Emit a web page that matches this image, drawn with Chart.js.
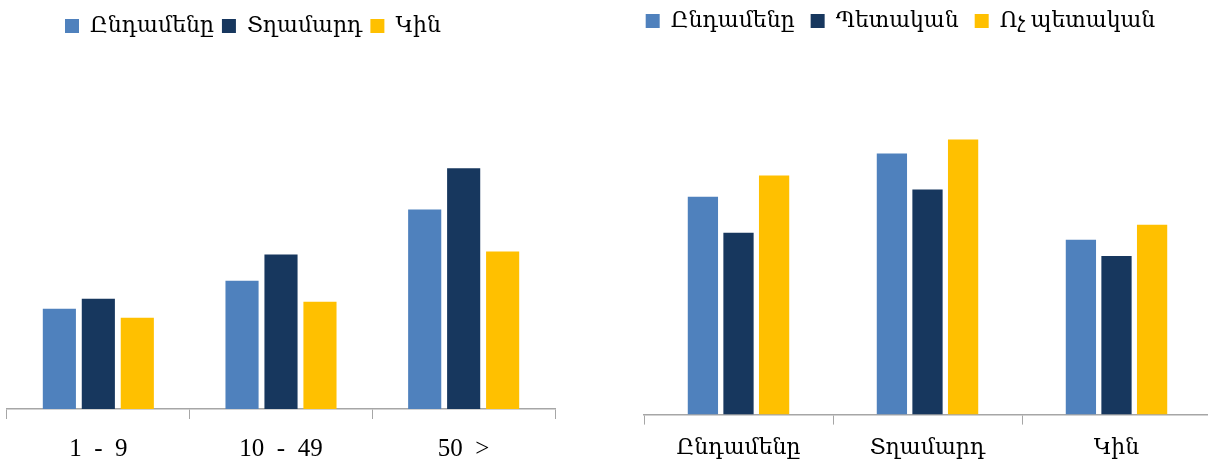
<!DOCTYPE html>
<html>
<head>
<meta charset="utf-8">
<script src="https://cdn.jsdelivr.net/npm/chart.js@4.4.1/dist/chart.umd.min.js"></script>
<style>
  html, body { margin: 0; padding: 0; background: #fff; overflow: hidden; }
  body { width: 1208px; height: 462px; position: relative; overflow: hidden; }
  .box { position: absolute; top: 0; }
  #leftBox { left: 0; width: 562px; height: 479px; }
  #rightBox { left: 600px; width: 620px; height: 471px; }
</style>
</head>
<body>
<div class="box" id="leftBox"><canvas id="sizeChart"></canvas></div>
<div class="box" id="rightBox"><canvas id="ownerChart"></canvas></div>
<script>
// left chart: by enterprise size
const sizeLabels = ['1\u00a0\u00a0-\u00a0\u00a09', '10\u00a0\u00a0-\u00a0\u00a049', '50\u00a0\u00a0>'];
const sizeSeries = ['Ընդամենը', 'Տղամարդ', 'Կին'];
const sizeTotal = [100, 128, 199];
const sizeMen = [110, 154, 240];
const sizeWomen = [91, 107, 157];

// right chart: by ownership
const ownerLabels = ['Ընդամենը', 'Տղամարդ', 'Կին'];
const ownerSeries = ['Ընդամենը', 'Պետական', 'Ոչ պետական'];
const ownerTotal = [217, 260, 174];
const ownerState = [181, 224, 158];
const ownerPrivate = [238, 274, 189];

const colors = ['#4F81BD', '#17375E', '#FFC000'];
const fontFamily = '"Liberation Serif", "DejaVu Serif", serif';
const axisColor = '#A6A6A6';

// moves the legend after layout, the chart area stays put
const shiftLegend = {
    id: 'shiftLegend',
    afterLayout(chart, args, opts) {
        const l = chart.legend;
        if (l) {
            l.left += opts.dx || 0;
            l.right += opts.dx || 0;
            l.top += opts.dy || 0;
            l.bottom += opts.dy || 0;
        }
    }
};

function makeChart(id, labels, names, values, cfg) {
    const ctx = document.getElementById(id).getContext('2d');
    return new Chart(ctx, {
        type: 'bar',
        data: {
            labels: labels,
            datasets: values.map((v, i) => ({
                label: names[i],
                data: v,
                backgroundColor: colors[i],
                borderWidth: 0,
                categoryPercentage: cfg.catPct,
                barPercentage: 0.85
            }))
        },
        plugins: [shiftLegend],
        options: {
            responsive: true,
            maintainAspectRatio: false,
            animation: false,
            layout: { padding: cfg.padding },
            scales: {
                x: {
                    grid: {
                        display: true,
                        drawOnChartArea: false,
                        drawTicks: true,
                        tickLength: 10,
                        color: axisColor,
                        offset: true
                    },
                    border: { display: true, color: axisColor, width: 1.5 },
                    ticks: {
                        color: '#000',
                        padding: cfg.tickPad,
                        font: { family: fontFamily, size: cfg.tickSize }
                    }
                },
                y: {
                    display: false,
                    beginAtZero: true,
                    max: cfg.yMax
                }
            },
            plugins: {
                legend: {
                    display: true,
                    position: 'top',
                    labels: {
                        color: '#000',
                        boxWidth: 14,
                        boxHeight: 14,
                        padding: cfg.legendPad,
                        font: { family: fontFamily, size: 22 }
                    }
                },
                tooltip: { enabled: false },
                shiftLegend: { dx: cfg.dx, dy: cfg.dy }
            }
        }
    });
}

makeChart('sizeChart', sizeLabels, sizeSeries, [sizeTotal, sizeMen, sizeWomen], {
    padding: { left: 7, right: 7, top: 9, bottom: 0 },
    catPct: 0.64,
    tickPad: 15,
    tickSize: 25,
    legendPad: 8,
    yMax: 359,
    dx: -28,
    dy: -2
});

makeChart('ownerChart', ownerLabels, ownerSeries, [ownerTotal, ownerState, ownerPrivate], {
    padding: { left: 44, right: 9, top: 0, bottom: 0 },
    catPct: 0.565,
    tickPad: 10,
    tickSize: 22,
    legendPad: 16,
    yMax: 365,
    dx: -27,
    dy: -6
});
</script>
</body>
</html>
